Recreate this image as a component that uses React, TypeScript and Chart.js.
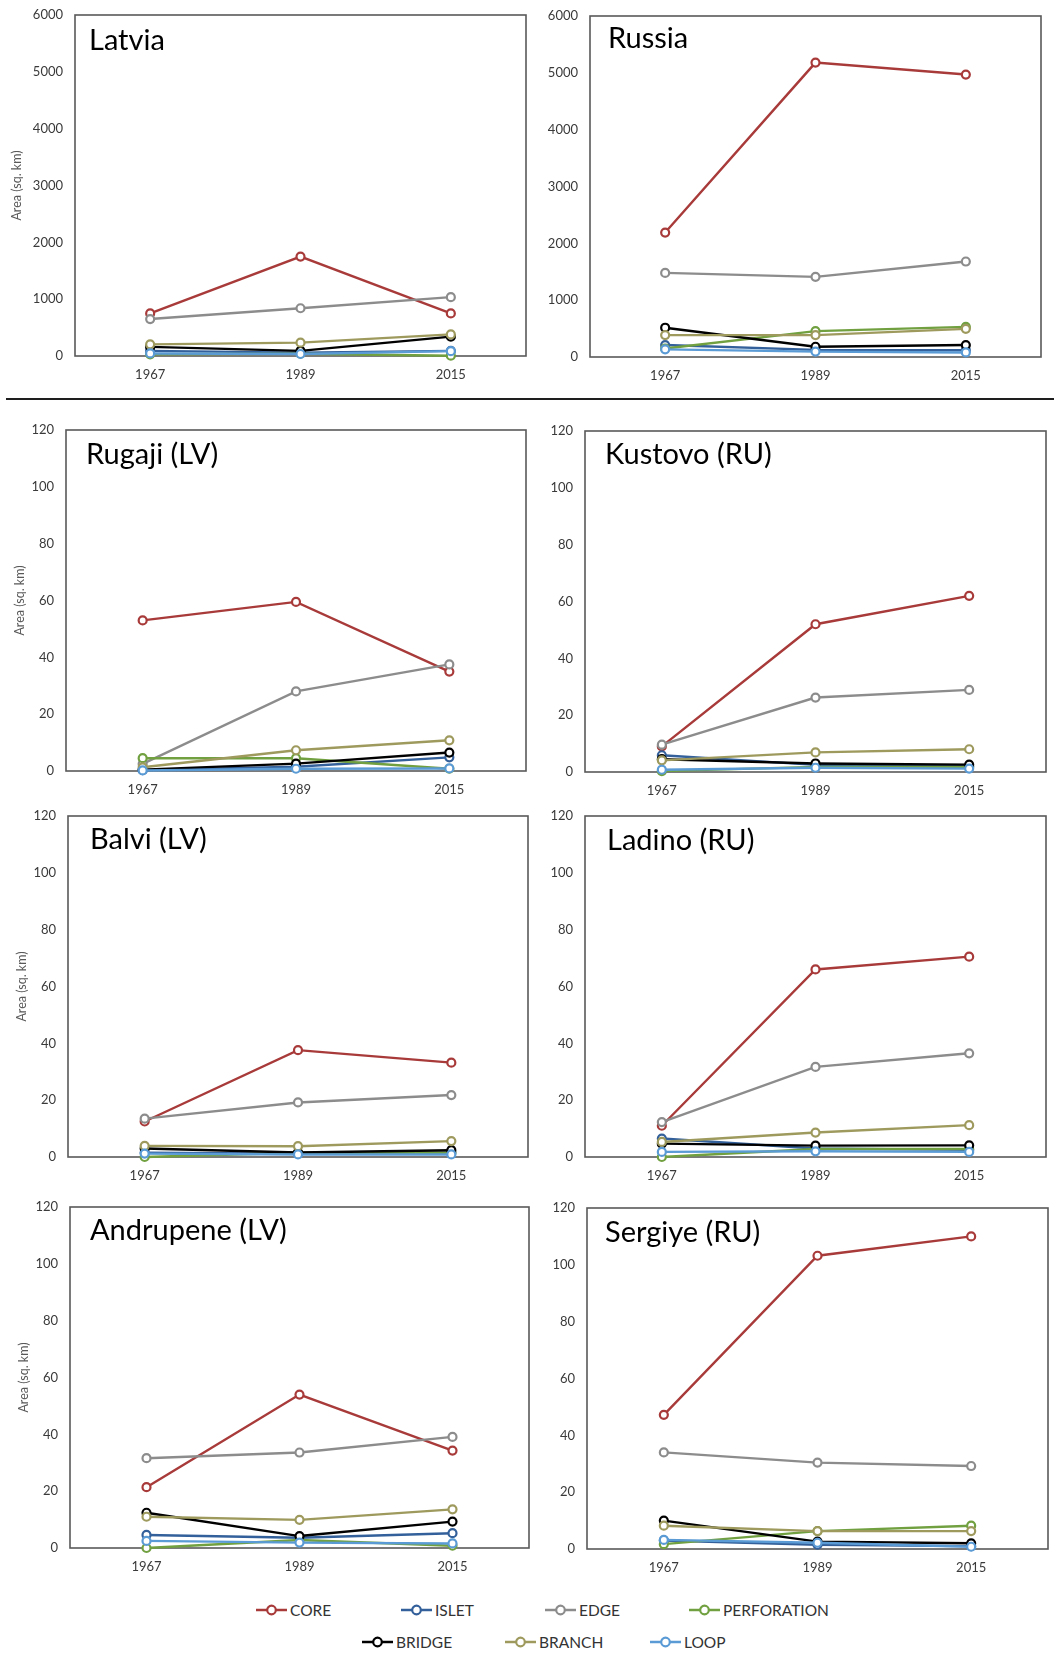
import React, { useEffect, useRef } from 'react';
import { Chart, registerables } from 'chart.js';

Chart.register(...registerables);

// ---------- data ----------
const years = ['1967', '1989', '2015'];
const seriesNames = ['CORE', 'ISLET', 'EDGE', 'PERFORATION', 'BRIDGE', 'BRANCH', 'LOOP'];
const seriesColors = ['#A83A3A', '#33609A', '#8C8C8C', '#71A040', '#000000', '#9E9A5E', '#5B9BD5'];

// rows follow seriesNames order: CORE, ISLET, EDGE, PERFORATION, BRIDGE, BRANCH, LOOP
const latvia = [
  [750, 1750, 750],
  [90, 60, 90],
  [650, 840, 1035],
  [30, 40, 5],
  [160, 90, 340],
  [205, 235, 380],
  [45, 35, 85],
];
const russia = [
  [2190, 5180, 4970],
  [210, 125, 120],
  [1480, 1410, 1680],
  [150, 455, 530],
  [515, 180, 210],
  [385, 385, 495],
  [135, 95, 80],
];
const rugaji = [
  [53, 59.5, 35],
  [0.3, 1.5, 4.8],
  [2.5, 28, 37.5],
  [4.5, 4.5, 0.8],
  [0.5, 2.6, 6.5],
  [1.3, 7.3, 10.8],
  [0.2, 0.8, 0.9],
];
const kustovo = [
  [9, 52, 62],
  [5.9, 2.5, 2],
  [9.6, 26.2, 28.9],
  [0.3, 1.8, 1.8],
  [4.5, 3, 2.6],
  [4.1, 6.9, 8],
  [0.8, 1.5, 1.2],
];
const balvi = [
  [12.5, 37.6, 33.2],
  [1.5, 1.2, 1.5],
  [13.5, 19.2, 21.8],
  [0, 1.5, 1.5],
  [3, 1.6, 2.4],
  [3.9, 3.8, 5.6],
  [1.2, 0.9, 0.9],
];
const ladino = [
  [11, 66, 70.5],
  [6.5, 3, 2.5],
  [12.3, 31.7, 36.5],
  [0, 2.8, 2.8],
  [4.7, 4, 4.1],
  [5.3, 8.6, 11.2],
  [1.8, 2, 1.8],
];
const andrupene = [
  [21.4, 54, 34.3],
  [4.6, 3.6, 5.2],
  [31.6, 33.6, 39.1],
  [0, 2.8, 0.8],
  [12.4, 4.2, 9.3],
  [11, 9.9, 13.6],
  [2.5, 1.9, 1.6],
];
const sergiye = [
  [47.2, 103.2, 110],
  [3, 1.5, 1],
  [34, 30.4, 29.2],
  [1.7, 6.3, 8.2],
  [10, 2.6, 2],
  [8.2, 6.3, 6.3],
  [3.2, 2.2, 0.8],
];

const countryMax = 6000;
const countryStep = 1000;
const siteMax = 120;
const siteStep = 20;
const axisTitle = 'Area (sq. km)';

// ---------- layout ----------
type PanelDef = {
  title: string;
  values: number[][];
  yMax: number;
  yStep: number;
  box: [number, number, number, number]; // plot area L, T, R, B
  tdx: number;
  tdy: number;
  axisTitleX?: number;
};

const panels: PanelDef[] = [
  { title: 'Latvia', values: latvia, yMax: countryMax, yStep: countryStep, box: [75, 15, 526, 356], tdx: 14, tdy: 35, axisTitleX: 17 },
  { title: 'Russia', values: russia, yMax: countryMax, yStep: countryStep, box: [590, 16, 1041, 357], tdx: 18, tdy: 32 },
  { title: 'Rugaji (LV)', values: rugaji, yMax: siteMax, yStep: siteStep, box: [66, 430, 526, 771], tdx: 20, tdy: 34, axisTitleX: 20 },
  { title: 'Kustovo (RU)', values: kustovo, yMax: siteMax, yStep: siteStep, box: [585, 431, 1046, 772], tdx: 20, tdy: 33 },
  { title: 'Balvi (LV)', values: balvi, yMax: siteMax, yStep: siteStep, box: [68, 816, 528, 1157], tdx: 22, tdy: 33, axisTitleX: 22 },
  { title: 'Ladino (RU)', values: ladino, yMax: siteMax, yStep: siteStep, box: [585, 816, 1046, 1157], tdx: 22, tdy: 34 },
  { title: 'Andrupene (LV)', values: andrupene, yMax: siteMax, yStep: siteStep, box: [70, 1207, 529, 1548], tdx: 20, tdy: 33, axisTitleX: 24 },
  { title: 'Sergiye (RU)', values: sergiye, yMax: siteMax, yStep: siteStep, box: [587, 1208, 1048, 1549], tdx: 18, tdy: 34 },
];

const legendRows: { idx: number; x: number; y: number }[] = [
  { idx: 0, x: 256, y: 1610 },
  { idx: 1, x: 401, y: 1610 },
  { idx: 2, x: 545, y: 1610 },
  { idx: 3, x: 689, y: 1610 },
  { idx: 4, x: 362, y: 1642 },
  { idx: 5, x: 505, y: 1642 },
  { idx: 6, x: 650, y: 1642 },
];

const FONT = 'Lato, "Open Sans", sans-serif';

const panelDecor = {
  id: 'panelDecor',
  beforeDatasetsDraw(chart: any, _args: any, opts: any) {
    const { ctx, chartArea: a } = chart;
    ctx.save();
    ctx.strokeStyle = '#595959';
    ctx.lineWidth = 1.6;
    ctx.strokeRect(a.left, a.top, a.right - a.left, a.bottom - a.top);
    ctx.fillStyle = '#000000';
    ctx.font = '29px ' + FONT;
    ctx.textAlign = 'left';
    ctx.textBaseline = 'alphabetic';
    ctx.fillText(opts.text, a.left + opts.dx, a.top + opts.dy);
    ctx.restore();
  },
};

const PAD_TOP = 24;
const PAD_RIGHT = 10;
const X_H = 30;

function Panel({ p }: { p: PanelDef }) {
  const ref = useRef<HTMLCanvasElement>(null);
  const leftSide = p.axisTitleX !== undefined;
  const canvasLeft = leftSide ? 0 : 540;
  const [L, T, R, B] = p.box;
  const cw = R + PAD_RIGHT - canvasLeft;
  const ch = B - T + PAD_TOP + X_H;
  const yW = L - canvasLeft;

  useEffect(() => {
    const canvas = ref.current;
    if (!canvas) return;
    const datasets = seriesNames.map((name, i) => ({
      label: name,
      data: p.values[i],
      borderColor: seriesColors[i],
      backgroundColor: '#ffffff',
      pointBackgroundColor: '#ffffff',
      pointBorderColor: seriesColors[i],
      pointRadius: 4,
      pointBorderWidth: 2.2,
      borderWidth: 2.4,
      tension: 0,
      clip: false as any,
      order: seriesNames.length - i,
    }));
    const chart = new Chart(canvas, {
      type: 'line',
      data: { labels: years, datasets },
      plugins: [panelDecor as any],
      options: {
        animation: false,
        responsive: false,
        events: [],
        layout: { padding: { top: PAD_TOP, right: PAD_RIGHT, left: 0, bottom: 0 } },
        plugins: {
          legend: { display: false },
          tooltip: { enabled: false },
          panelDecor: { text: p.title, dx: p.tdx, dy: p.tdy },
        } as any,
        scales: {
          x: {
            type: 'category',
            offset: true,
            grid: { display: false, drawTicks: false },
            border: { display: false },
            ticks: {
              font: { family: FONT, size: 13 },
              color: '#3a3a3a',
              padding: 11,
              maxRotation: 0,
              autoSkip: false,
            },
            afterFit: (s: any) => {
              s.height = X_H;
            },
          },
          y: {
            min: 0,
            max: p.yMax,
            grid: { display: false, drawTicks: false },
            border: { display: false },
            ticks: {
              stepSize: p.yStep,
              font: { family: FONT, size: 13 },
              color: '#3a3a3a',
              padding: 12,
              callback: (v: any) => String(v),
            },
            title: leftSide
              ? {
                  display: true,
                  text: axisTitle,
                  font: { family: FONT, size: 12.5 },
                  color: '#595959',
                  padding: { top: (p.axisTitleX as number) - canvasLeft - 7.5, bottom: 0 },
                }
              : { display: false },
            afterFit: (s: any) => {
              s.width = yW;
            },
          },
        },
      },
    });
    return () => chart.destroy();
  }, []);

  return (
    <canvas
      ref={ref}
      width={cw}
      height={ch}
      style={{ position: 'absolute', left: canvasLeft, top: T - PAD_TOP, width: cw, height: ch }}
    />
  );
}

function LegendItem({ idx, x, y }: { idx: number; x: number; y: number }) {
  const c = seriesColors[idx];
  return (
    <div
      style={{
        position: 'absolute',
        left: x,
        top: y - 10,
        height: 20,
        display: 'flex',
        alignItems: 'center',
        whiteSpace: 'nowrap',
      }}
    >
      <svg width={31} height={14} style={{ display: 'block' }}>
        <line x1={0} y1={7} x2={31} y2={7} stroke={c} strokeWidth={2.5} />
        <circle cx={15.5} cy={7} r={4.3} fill="#ffffff" stroke={c} strokeWidth={2.2} />
      </svg>
      <span style={{ marginLeft: 3, font: '15.5px ' + FONT, color: '#333333', lineHeight: '20px' }}>
        {seriesNames[idx]}
      </span>
    </div>
  );
}

export default function App() {
  return (
    <div
      style={{
        position: 'absolute',
        left: 0,
        top: 0,
        width: 1054,
        height: 1654,
        background: '#ffffff',
        overflow: 'hidden',
      }}
    >
      {panels.map((p) => (
        <Panel key={p.title} p={p} />
      ))}
      <div style={{ position: 'absolute', left: 6, top: 398, width: 1048, height: 2, background: '#1e1e1e' }} />
      {legendRows.map((r) => (
        <LegendItem key={r.idx} idx={r.idx} x={r.x} y={r.y} />
      ))}
    </div>
  );
}
